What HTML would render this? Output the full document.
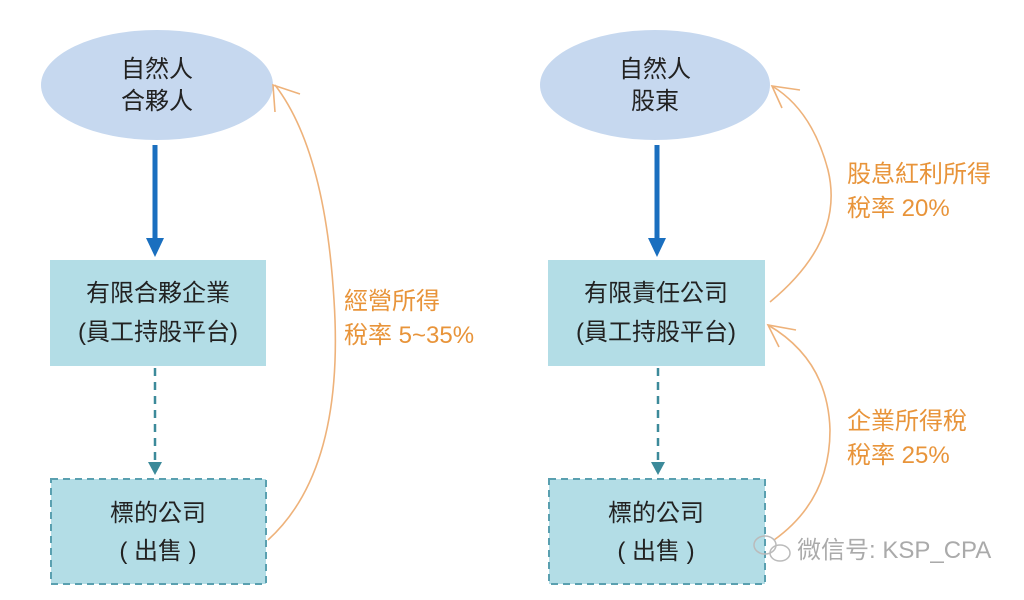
<!DOCTYPE html>
<html><head><meta charset="utf-8"><style>
body{margin:0;background:#fff;}
svg text{font-family:"Liberation Sans","Noto Sans CJK TC",sans-serif;}
</style></head><body>
<svg width="1024" height="595" viewBox="0 0 1024 595" xmlns="http://www.w3.org/2000/svg">
<rect width="1024" height="595" fill="#fff"/>
<!-- Left -->
<ellipse cx="157" cy="85" rx="116" ry="55" fill="#c6d8ef"/>
<text x="157" y="77" font-size="24" text-anchor="middle" fill="#222">自然人</text>
<text x="157" y="109" font-size="24" text-anchor="middle" fill="#222">合夥人</text>
<line x1="155" y1="145" x2="155" y2="240" stroke="#1a6fbf" stroke-width="5"/>
<polygon points="146,238 164,238 155,257" fill="#1a6fbf"/>
<rect x="50" y="260" width="216" height="106" fill="#b3dde6"/>
<text x="158" y="301" font-size="24" text-anchor="middle" fill="#222">有限合夥企業</text>
<text x="158" y="340" font-size="24" text-anchor="middle" fill="#222">(員工持股平台)</text>
<line x1="155" y1="368" x2="155" y2="463" stroke="#3c8a9a" stroke-width="2.5" stroke-dasharray="8,6"/>
<polygon points="148,462 162,462 155,475" fill="#3c8a9a"/>
<rect x="51" y="479" width="215" height="105" fill="#b3dde6" stroke="#5aa0b0" stroke-width="2" stroke-dasharray="7,5"/>
<text x="158" y="521" font-size="24" text-anchor="middle" fill="#222">標的公司</text>
<text x="158" y="559" font-size="24" text-anchor="middle" fill="#222">( 出售 )</text>
<path d="M268,540 Q345,470 334,300 Q325,150 275,85" fill="none" stroke="#eeb27a" stroke-width="1.6"/>
<path d="M275,112 L273,85 L300,94" fill="none" stroke="#eeb27a" stroke-width="1.6"/>
<text x="344" y="309" font-size="24" fill="#e8943a">經營所得</text>
<text x="344" y="343" font-size="24" fill="#e8943a">稅率 5~35%</text>
<!-- Right -->
<ellipse cx="655" cy="85" rx="115" ry="55" fill="#c6d8ef"/>
<text x="655" y="77" font-size="24" text-anchor="middle" fill="#222">自然人</text>
<text x="655" y="109" font-size="24" text-anchor="middle" fill="#222">股東</text>
<line x1="657" y1="145" x2="657" y2="240" stroke="#1a6fbf" stroke-width="5"/>
<polygon points="648,238 666,238 657,257" fill="#1a6fbf"/>
<rect x="548" y="260" width="217" height="106" fill="#b3dde6"/>
<text x="656" y="301" font-size="24" text-anchor="middle" fill="#222">有限責任公司</text>
<text x="656" y="340" font-size="24" text-anchor="middle" fill="#222">(員工持股平台)</text>
<line x1="658" y1="368" x2="658" y2="463" stroke="#3c8a9a" stroke-width="2.5" stroke-dasharray="8,6"/>
<polygon points="651,462 665,462 658,475" fill="#3c8a9a"/>
<rect x="549" y="479" width="216" height="105" fill="#b3dde6" stroke="#5aa0b0" stroke-width="2" stroke-dasharray="7,5"/>
<text x="656" y="521" font-size="24" text-anchor="middle" fill="#222">標的公司</text>
<text x="656" y="559" font-size="24" text-anchor="middle" fill="#222">( 出售 )</text>
<path d="M770,302 Q845,240 828,170 Q812,110 772,86" fill="none" stroke="#eeb27a" stroke-width="1.6"/>
<path d="M782,108 L772,86 L800,90" fill="none" stroke="#eeb27a" stroke-width="1.6"/>
<path d="M774,540 Q830,500 830,430 Q828,360 768,325" fill="none" stroke="#eeb27a" stroke-width="1.6"/>
<path d="M779,347 L768,325 L796,330" fill="none" stroke="#eeb27a" stroke-width="1.6"/>
<text x="847" y="182" font-size="24" fill="#e8943a">股息紅利所得</text>
<text x="847" y="216" font-size="24" fill="#e8943a">稅率 20%</text>
<text x="847" y="429" font-size="24" fill="#e8943a">企業所得稅</text>
<text x="847" y="463" font-size="24" fill="#e8943a">稅率 25%</text>
<!-- watermark -->
<g fill="none" stroke="#bbb" stroke-width="1.5">
<ellipse cx="765" cy="545" rx="11" ry="9"/>
<ellipse cx="780" cy="553" rx="10" ry="8"/>
</g>
<text x="797" y="558" font-size="24" fill="#aaa">微信号: KSP_CPA</text>
</svg>
</body></html>
